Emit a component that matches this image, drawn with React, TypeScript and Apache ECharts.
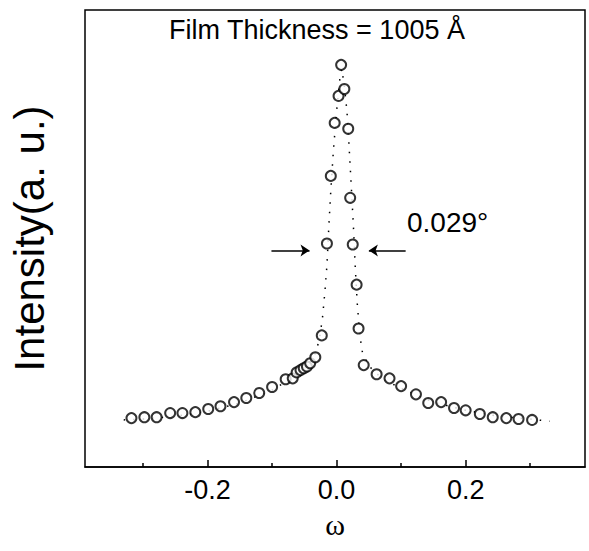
import React, { useEffect, useRef } from "react";
import * as echarts from "echarts";

// Measured rocking-curve points (omega in degrees, intensity in arbitrary units)
const omegaMeasured = [
  -0.318, -0.298, -0.279, -0.258, -0.239, -0.219, -0.199, -0.18, -0.159, -0.14,
  -0.12, -0.1, -0.079, -0.068, -0.062, -0.056, -0.051, -0.046, -0.041, -0.033,
  -0.023, -0.015, -0.009, -0.003, 0.003, 0.007, 0.012, 0.018, 0.021, 0.025,
  0.031, 0.034, 0.042, 0.062, 0.082, 0.1, 0.123, 0.142, 0.162, 0.182,
  0.2, 0.222, 0.242, 0.263, 0.282, 0.303,
];
const intensityMeasured = [
  10.7, 10.9, 10.9, 11.8, 11.8, 12.0, 12.7, 13.3, 14.2, 15.1,
  16.2, 17.5, 19.2, 19.4, 20.7, 21.2, 21.6, 22.0, 22.7, 24.0,
  28.8, 48.9, 63.7, 75.3, 81.2, 88.0, 82.7, 74.0, 58.9, 48.7,
  39.9, 30.3, 22.3, 20.3, 19.4, 17.7, 15.9, 14.0, 14.2, 12.9,
  12.4, 11.6, 10.9, 10.7, 10.5, 10.3,
];

// Fitted curve (dotted)
const omegaFit = [
  -0.33, -0.3, -0.25, -0.2, -0.15, -0.1, -0.07, -0.05, -0.035, -0.027,
  -0.022, -0.018, -0.015, -0.012, -0.009, -0.005, 0, 0.005, 0.008, 0.012,
  0.016, 0.019, 0.022, 0.026, 0.029, 0.032, 0.036, 0.04, 0.05, 0.07,
  0.1, 0.15, 0.2, 0.25, 0.3, 0.33,
];
const intensityFit = [
  10.3, 10.5, 11.1, 12.2, 14.0, 16.8, 19.4, 21.6, 24.0, 27.7,
  32.5, 38.6, 44.1, 52.8, 60.5, 69.2, 77.9, 84.9, 87.1, 83.4,
  77.9, 71.0, 63.3, 52.8, 43.4, 35.8, 28.8, 25.1, 22.1, 19.4,
  17.2, 14.2, 12.4, 11.1, 10.5, 10.0,
];

const majorTicks = [-0.2, 0, 0.2];
const minorTicks = [-0.3, -0.1, 0.1, 0.3];
const xRange = [-0.39, 0.385];
const yRange = [0, 100];

const titleText = "Film Thickness = 1005 Å";
const fwhmText = "0.029°";
const fwhmArrowLevel = 47.4;
const fwhmLeftArrow = [-0.101, -0.042];
const fwhmRightArrow = [0.107, 0.05];

export default function App() {
  const ref = useRef<HTMLDivElement>(null);
  useEffect(() => {
    if (!ref.current) return;
    document.body.style.margin = "0";
    const chart = echarts.init(ref.current, undefined, { renderer: "svg" });
    const font = "Liberation Sans";
    chart.setOption({
      animation: false,
      backgroundColor: "#fff",
      grid: {
        left: 58,
        right: 4,
        top: 10,
        bottom: 84,
        show: true,
        borderColor: "#000",
        borderWidth: 1.5,
      },
      xAxis: [
        {
          type: "value",
          min: xRange[0],
          max: xRange[1],
          axisLine: { show: true, lineStyle: { color: "#000", width: 1.5 } },
          axisTick: {
            show: true,
            inside: true,
            length: 7,
            customValues: majorTicks,
            lineStyle: { color: "#000", width: 1.5 },
          },
          axisLabel: {
            customValues: majorTicks,
            formatter: (v: number) => v.toFixed(1),
            fontSize: 27,
            color: "#000",
            fontFamily: font,
            margin: 9,
          },
          splitLine: { show: false },
          name: "ω",
          nameLocation: "middle",
          nameGap: 42,
          nameTextStyle: { fontFamily: "Liberation Serif", fontSize: 30, color: "#000" },
        },
        {
          type: "value",
          min: xRange[0],
          max: xRange[1],
          position: "bottom",
          axisLine: { show: false },
          axisTick: {
            show: true,
            inside: true,
            length: 4,
            customValues: minorTicks,
            lineStyle: { color: "#000", width: 1.5 },
          },
          axisLabel: { show: false },
          splitLine: { show: false },
        },
      ],
      yAxis: {
        type: "value",
        min: yRange[0],
        max: yRange[1],
        axisLine: { show: false },
        axisTick: { show: false },
        axisLabel: { show: false },
        splitLine: { show: false },
        name: "Intensity(a. u.)",
        nameLocation: "middle",
        nameGap: 35,
        nameTextStyle: { fontSize: 42, fontFamily: font, color: "#000" },
      },
      series: [
        {
          type: "line",
          data: omegaFit.map((x, i) => [x, intensityFit[i]]),
          showSymbol: false,
          lineStyle: { color: "#000", width: 1.5, type: [1.5, 8] },
          silent: true,
          z: 1,
        },
        {
          type: "scatter",
          data: omegaMeasured.map((x, i) => [x, intensityMeasured[i]]),
          symbol: "circle",
          symbolSize: 10,
          itemStyle: { color: "#fff", borderColor: "#000", borderWidth: 2 },
          z: 3,
          markLine: {
            silent: true,
            symbol: ["none", "arrow"],
            symbolSize: 9,
            label: { show: false },
            lineStyle: { color: "#000", width: 1.5, type: "solid" },
            data: [
              [
                { coord: [fwhmLeftArrow[0], fwhmArrowLevel] },
                { coord: [fwhmLeftArrow[1], fwhmArrowLevel] },
              ],
              [
                { coord: [fwhmRightArrow[0], fwhmArrowLevel] },
                { coord: [fwhmRightArrow[1], fwhmArrowLevel] },
              ],
            ],
          },
        },
      ],
      graphic: [
        {
          type: "text",
          x: 317,
          y: 30,
          style: {
            text: titleText,
            align: "center",
            verticalAlign: "middle",
            font: `27px "${font}"`,
            fill: "#000",
          },
        },
        {
          type: "text",
          x: 407,
          y: 222,
          style: {
            text: fwhmText,
            align: "left",
            verticalAlign: "middle",
            font: `28px "${font}"`,
            fill: "#000",
          },
        },
      ],
    });
    return () => chart.dispose();
  }, []);
  return <div ref={ref} style={{ width: 589, height: 551 }} />;
}
